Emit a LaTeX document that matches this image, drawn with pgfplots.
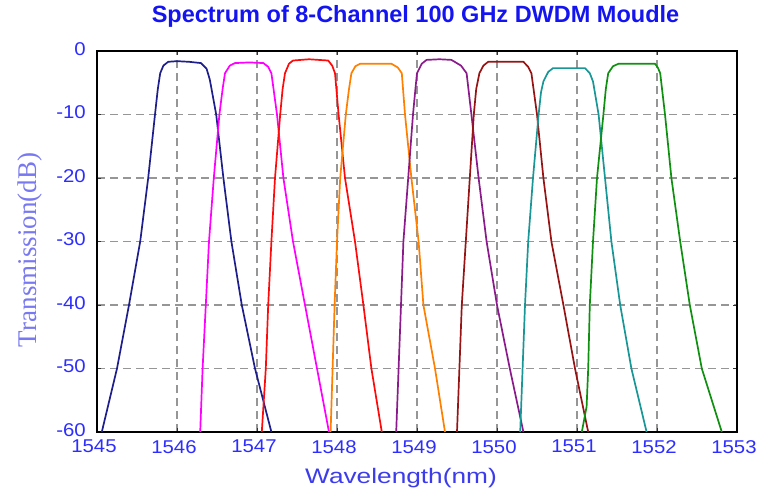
\documentclass[border=0pt]{standalone}
\usepackage{pgfplots}
\pgfplotsset{compat=1.18}
\usepackage{fontspec}
\setmainfont{Liberation Sans}
\newfontfamily\tickfont[FakeStretch=1.1]{Liberation Sans}
\newfontfamily\labfont[FakeStretch=1.25]{Liberation Sans}
\newfontfamily\seriffont{Liberation Serif}
\definecolor{titleblue}{RGB}{20,20,240}
\definecolor{tickblue}{RGB}{45,45,255}
\definecolor{xlabblue}{RGB}{60,60,235}
\definecolor{ylabblue}{RGB}{120,120,240}
\definecolor{gridgray}{RGB}{150,150,150}
\definecolor{cnavy}{RGB}{30,30,140}
\definecolor{cmag}{RGB}{255,0,255}
\definecolor{cred}{RGB}{255,10,10}
\definecolor{corange}{RGB}{255,128,0}
\definecolor{cpurple}{RGB}{139,26,139}
\definecolor{cbrown}{RGB}{150,20,20}
\definecolor{cteal}{RGB}{25,150,150}
\definecolor{cgreen}{RGB}{16,144,16}
\begin{document}
\begin{tikzpicture}
\useasboundingbox (0,0) rectangle (762bp,-491bp);
\begin{axis}[
  at={(97bp,-432bp)}, anchor=south west,
  scale only axis, width=640bp, height=381bp,
  xmin=1545, xmax=1553, ymin=-60, ymax=0,
  xtick={1545,1546,...,1553}, ytick={-60,-50,...,0},
  /pgf/number format/assume math mode=true,
  /pgf/number format/1000 sep={},
  grid=major,
  major grid style={gridgray, line width=1.5bp, dash pattern=on 8bp off 5bp},
  axis line style={black, line width=1.3bp},
  tick align=inside, major tick length=4bp,
  tick style={black!80, line width=0.9bp},
  xticklabel style={font=\tickfont\fontsize{18.5bp}{20bp}\selectfont, text=tickblue, inner sep=0pt, anchor=north, yshift=-8bp, xshift=-3bp},
  yticklabel style={font=\tickfont\fontsize{18.5bp}{20bp}\selectfont, text=tickblue, inner sep=0pt, anchor=east, xshift=-11bp, yshift=2bp},
  title={Spectrum of 8-Channel 100 GHz DWDM Moudle},
  title style={font=\bfseries\fontsize{23.5bp}{25bp}\selectfont, text=titleblue, inner sep=0pt, at={(0.5,1)}, anchor=base, yshift=22.7bp, xshift=-1.5bp},
  xlabel={Wavelength(nm)},
  xlabel style={font=\labfont\fontsize{21bp}{23bp}\selectfont, text=xlabblue, inner sep=0pt, at={(0.5,0)}, anchor=base, yshift=-51.3bp, xshift=-16bp},
  every axis plot/.append style={line width=1.7bp, line join=round},
]
\addplot[cnavy] coordinates {(1545.06,-60) (1545.25,-50) (1545.40,-40) (1545.54,-30) (1545.64,-20) (1545.725,-10) (1545.76,-6) (1545.79,-3.5) (1545.83,-2.3) (1545.89,-1.7) (1546.0,-1.6) (1546.15,-1.7) (1546.30,-1.9) (1546.37,-2.8) (1546.41,-4.5) (1546.49,-10) (1546.58,-20) (1546.68,-30) (1546.81,-40) (1546.975,-50) (1547.18,-60)};
\addplot[cmag] coordinates {(1546.29,-60) (1546.32,-50) (1546.36,-40) (1546.40,-30) (1546.46,-20) (1546.53,-10) (1546.57,-6) (1546.6,-3.5) (1546.66,-2.3) (1546.725,-1.9) (1546.9,-1.8) (1547.08,-1.9) (1547.14,-2.5) (1547.18,-3.5) (1547.25,-10) (1547.33,-20) (1547.45,-30) (1547.6,-40) (1547.75,-50) (1547.90,-60)};
\addplot[cred] coordinates {(1547.06,-60) (1547.11,-50) (1547.14,-40) (1547.18,-30) (1547.225,-20) (1547.29,-10) (1547.32,-6) (1547.35,-3.5) (1547.40,-2.0) (1547.45,-1.5) (1547.65,-1.3) (1547.89,-1.5) (1547.94,-2.3) (1547.975,-3.5) (1548.02,-10) (1548.1,-20) (1548.225,-30) (1548.33,-40) (1548.43,-50) (1548.56,-60)};
\addplot[corange] coordinates {(1547.92,-60) (1547.945,-50) (1547.97,-40) (1548.0,-30) (1548.04,-20) (1548.11,-10) (1548.15,-6) (1548.18,-3.5) (1548.23,-2.4) (1548.29,-2.0) (1548.5,-2.0) (1548.68,-2.0) (1548.76,-2.6) (1548.81,-3.5) (1548.85,-10) (1548.93,-20) (1549.02,-30) (1549.08,-40) (1549.225,-50) (1549.35,-60)};
\addplot[cpurple] coordinates {(1548.74,-60) (1548.77,-50) (1548.80,-40) (1548.83,-30) (1548.89,-20) (1548.95,-10) (1548.98,-6) (1549.0,-3.5) (1549.06,-2.0) (1549.12,-1.4) (1549.28,-1.3) (1549.43,-1.4) (1549.55,-2.3) (1549.62,-3.5) (1549.68,-10) (1549.77,-20) (1549.87,-30) (1550.0,-40) (1550.16,-50) (1550.33,-60)};
\addplot[cbrown] coordinates {(1549.50,-60) (1549.53,-50) (1549.56,-40) (1549.61,-30) (1549.66,-20) (1549.71,-10) (1549.74,-6) (1549.78,-3.5) (1549.83,-2.3) (1549.89,-1.7) (1550.1,-1.7) (1550.33,-1.7) (1550.39,-2.5) (1550.43,-3.5) (1550.50,-10) (1550.58,-20) (1550.68,-30) (1550.83,-40) (1550.975,-50) (1551.14,-60)};
\addplot[cteal] coordinates {(1550.29,-60) (1550.32,-50) (1550.35,-40) (1550.39,-30) (1550.45,-20) (1550.52,-10) (1550.55,-6.5) (1550.58,-4.8) (1550.64,-3.3) (1550.70,-2.7) (1550.9,-2.7) (1551.1,-2.7) (1551.16,-3.5) (1551.2,-4.8) (1551.27,-10) (1551.35,-20) (1551.43,-30) (1551.54,-40) (1551.68,-50) (1551.87,-60)};
\addplot[cgreen] coordinates {(1551.06,-60) (1551.12,-56) (1551.14,-50) (1551.16,-40) (1551.2,-30) (1551.25,-20) (1551.33,-10) (1551.36,-6) (1551.39,-3.5) (1551.45,-2.4) (1551.52,-2.0) (1551.75,-2.0) (1551.975,-2.0) (1552.01,-2.6) (1552.04,-3.5) (1552.1,-10) (1552.18,-20) (1552.29,-30) (1552.41,-40) (1552.56,-50) (1552.81,-60)};
\end{axis}
\node[rotate=90, anchor=base, inner sep=0pt, text=ylabblue, font=\seriffont\fontsize{27bp}{29bp}\selectfont] at (36bp,-250bp) {Transmission(dB)};
\end{tikzpicture}
\end{document}
